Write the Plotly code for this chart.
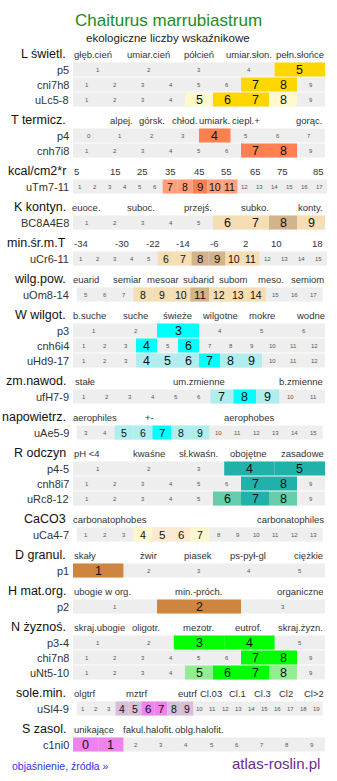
import plotly.graph_objects as go

# ---------------- DATA ----------------
title = "Chaiturus marrubiastrum"
subtitle = "ekologiczne liczby wskaźnikowe"

section_names = ["L świetl.", "T termicz.", "kcal/cm2*r", "K kontyn.", "min.śr.m.T",
                 "wilg.pow.", "W wilgot.", "zm.nawod.", "napowietrz.", "R odczyn",
                 "CaCO3", "D granul.", "H mat.org.", "N żyznoś.", "sole.min.", "S zasol."]

section_labels = [
    ["głęb.cień", "umiar.cień", "półcień", "umiar.słon.", "pełn.słońce"],
    ["alpej.", "górsk.", "chłod.", "umiark.", "ciepl.+", "gorąc."],
    ["5", "15", "25", "35", "45", "55", "65", "75", "85"],
    ["euoce.", "suboc.", "przejś.", "subko.", "konty."],
    ["-34", "-30", "-22", "-14", "-6", "2", "10", "18"],
    ["euarid", "semiar", "mesoar", "subarid", "subom", "meso.", "semiom"],
    ["b.suche", "suche", "świeże", "wilgotne", "mokre", "wodne"],
    ["stałe", "um.zmienne", "b.zmienne"],
    ["aerophiles", "+-", "aerophobes"],
    ["pH <4", "kwaśne", "sł.kwaśn.", "obojętne", "zasadowe"],
    ["carbonatophobes", "carbonatophiles"],
    ["skały", "żwir", "piasek", "ps-pył-gl", "ciężkie"],
    ["ubogie w org.", "min.-próch.", "organiczne"],
    ["skraj.ubogie", "oligotr.", "mezotr.", "eutrof.", "skraj.żyzn."],
    ["olgtrf", "mztrf", "eutrf", "Cl.03", "Cl.1", "Cl.3", "Cl2", "Cl>2"],
    ["unikające", "fakul.halofit.", "oblg.halofit."],
]

# rows per section: (label, scale_min, scale_max, strong values, weak values)
section_rows = [
    [("p5", 1, 5, [5], []), ("cni7h8", 1, 9, [7, 8], []), ("uLc5-8", 1, 9, [6, 7], [5, 8])],
    [("p4", 0, 7, [4], []), ("cnh7i8", 1, 9, [7, 8], [])],
    [("uTm7-11", 1, 17, [9], [7, 8, 10, 11])],
    [("BC8A4E8", 1, 9, [8], [6, 7, 9])],
    [("uCr6-11", 1, 15, [8, 9], [6, 7, 10, 11])],
    [("uOm8-14", 5, 17, [11], [8, 9, 10, 12, 13, 14])],
    [("p3", 1, 6, [3], []), ("cnh6i4", 1, 12, [4, 6], []), ("uHd9-17", 1, 12, [7], [4, 5, 6, 8, 9])],
    [("ufH7-9", 1, 11, [8], [7, 9])],
    [("uAe5-9", 3, 15, [7], [5, 6, 8, 9])],
    [("p4-5", 1, 5, [4, 5], []), ("cnh8i7", 1, 9, [7, 8], []), ("uRc8-12", 1, 9, [7], [6, 8])],
    [("uCa4-7", 1, 13, [5, 6], [4, 7])],
    [("p1", 1, 5, [1], [])],
    [("p2", 1, 3, [2], [])],
    [("p3-4", 1, 5, [3, 4], []), ("chi7n8", 1, 9, [7, 8], []), ("uNt5-10", 1, 9, [6, 7], [5, 8])],
    [("uSl4-9", 1, 19, [6, 7], [4, 5, 8, 9])],
    [("c1ni0", 0, 9, [0, 1], [])],
]

footer_left = "objaśnienie, źródła »"
footer_right = "atlas-roslin.pl"

# ---------------- STYLE / LAYOUT ----------------
W, H = 337, 781
FONT = "Liberation Sans, Arial, sans-serif"
GREY = "#eeeeee"

section_colors = [
    ("#ffd700", "#fff8cc"), ("#ff7f50", "#ffa07a"), ("#ff7f50", "#ffa07a"),
    ("#d2b48c", "#f5deb3"), ("#d2b48c", "#f5deb3"), ("#d2b48c", "#f5deb3"),
    ("#00ffff", "#afeeee"), ("#00ffff", "#afeeee"), ("#00ffff", "#afeeee"),
    ("#20b2aa", "#66cdaa"), ("#fde9d0", "#fff8cc"), ("#cd853f", "#deb887"),
    ("#cd853f", "#deb887"), ("#00ff00", "#90ee90"), ("#ee82ee", "#d8bfd8"),
    ("#ee82ee", "#d8bfd8"),
]

# x centers of the category labels (pixels), with anchors
label_x = [
    [92.5, 148.5, 198.5, 248.5, 299.5],
    [121, 152, 184, 214.5, 245.5, 309],
    [76, 115, 142.7, 170.7, 199, 226.7, 255, 282.7, 318],
    [86.5, 141, 198, 254.5, 310.5],
    [81, 121.5, 152.5, 183, 213.5, 245, 276, 317.5],
    [85.5, 127, 162.5, 198, 233, 270.5, 307],
    [89.5, 135.8, 177.5, 220, 261.7, 310],
    [85, 199, 301],
    [94.5, 149.3, 248.7],
    [86.5, 149, 198.3, 248, 302],
    [110.3, 290],
    [85, 148, 198, 248, 308],
    [102.5, 199, 300],
    [99, 146, 198.5, 248, 300],
    [84, 136, 187, 211, 237, 262, 286, 313.5],
    [93.5, 148, 199],
]

HEADER0 = 54
ROW_OFF = 15.5
ROW_PITCH = 15
ROW_H = 14
SECTION_GAP = 21


def row_extent(n):
    if n in (13, 19):
        return 76.7, 322.7
    if n in (15, 17):
        return 73, 327
    return 73, 325


shapes = []
ann = []


def text(x, y, s, size, color="#222", xanchor="center", yanchor="middle"):
    ann.append(dict(x=x, y=y, xref="x", yref="y", text=s, showarrow=False,
                    font=dict(family=FONT, size=size, color=color),
                    xanchor=xanchor, yanchor=yanchor))


text(168.5, 20, title, 17, "#228b22")
text(168, 38, subtitle, 11.5, "#222")

y = HEADER0
for si, name in enumerate(section_names):
    text(67.5, y, name, 12.5, "#111", xanchor="right")
    for lab, lx in zip(section_labels[si], label_x[si]):
        text(lx, y, lab, 9.5, "#333")
    strong_c, weak_c = section_colors[si]
    for ri, (rlab, lo, hi, strong, weak) in enumerate(section_rows[si]):
        cy = y + ROW_OFF + ROW_PITCH * ri
        n = hi - lo + 1
        x0, x1 = row_extent(n)
        cw = (x1 - x0) / n
        y0, y1 = cy - ROW_H / 2, cy + ROW_H / 2
        shapes.append(dict(type="rect", xref="x", yref="y", x0=x0, x1=x1, y0=y0, y1=y1,
                           fillcolor=GREY, line=dict(width=0), layer="below"))
        text(70.5, cy, rlab, 11, "#333", xanchor="right")
        for k, v in enumerate(range(lo, hi + 1)):
            cx0 = x0 + k * cw
            cx = cx0 + cw / 2
            if v in strong or v in weak:
                col = strong_c if v in strong else weak_c
                shapes.append(dict(type="rect", xref="x", yref="y", x0=cx0, x1=cx0 + cw,
                                   y0=y0, y1=y1, fillcolor=col, line=dict(width=0),
                                   layer="below"))
                if n <= 12:
                    fs = 12.5
                else:
                    fs = 11.5 if v in strong else 10.5
                text(cx, cy + 0.5, str(v), fs, "#111")
            else:
                text(cx, cy, str(v), 6, "#555")
    y += SECTION_GAP + ROW_PITCH * len(section_rows[si])

text(10, 766, footer_left, 10.5, "#3333dd", xanchor="left")
text(322, 763, footer_right, 15, "#6a2a8e", xanchor="right")

fig = go.Figure()
fig.add_trace(go.Scatter(x=[0, W], y=[0, H], mode="markers",
                         marker=dict(opacity=0), hoverinfo="skip", showlegend=False))
fig.update_layout(
    width=W, height=H, margin=dict(l=0, r=0, t=0, b=0),
    paper_bgcolor="white", plot_bgcolor="white",
    xaxis=dict(range=[0, W], visible=False, fixedrange=True),
    yaxis=dict(range=[H, 0], visible=False, fixedrange=True),
    shapes=shapes, annotations=ann, showlegend=False,
)
fig.write_html("out.html", config={"displayModeBar": False})
